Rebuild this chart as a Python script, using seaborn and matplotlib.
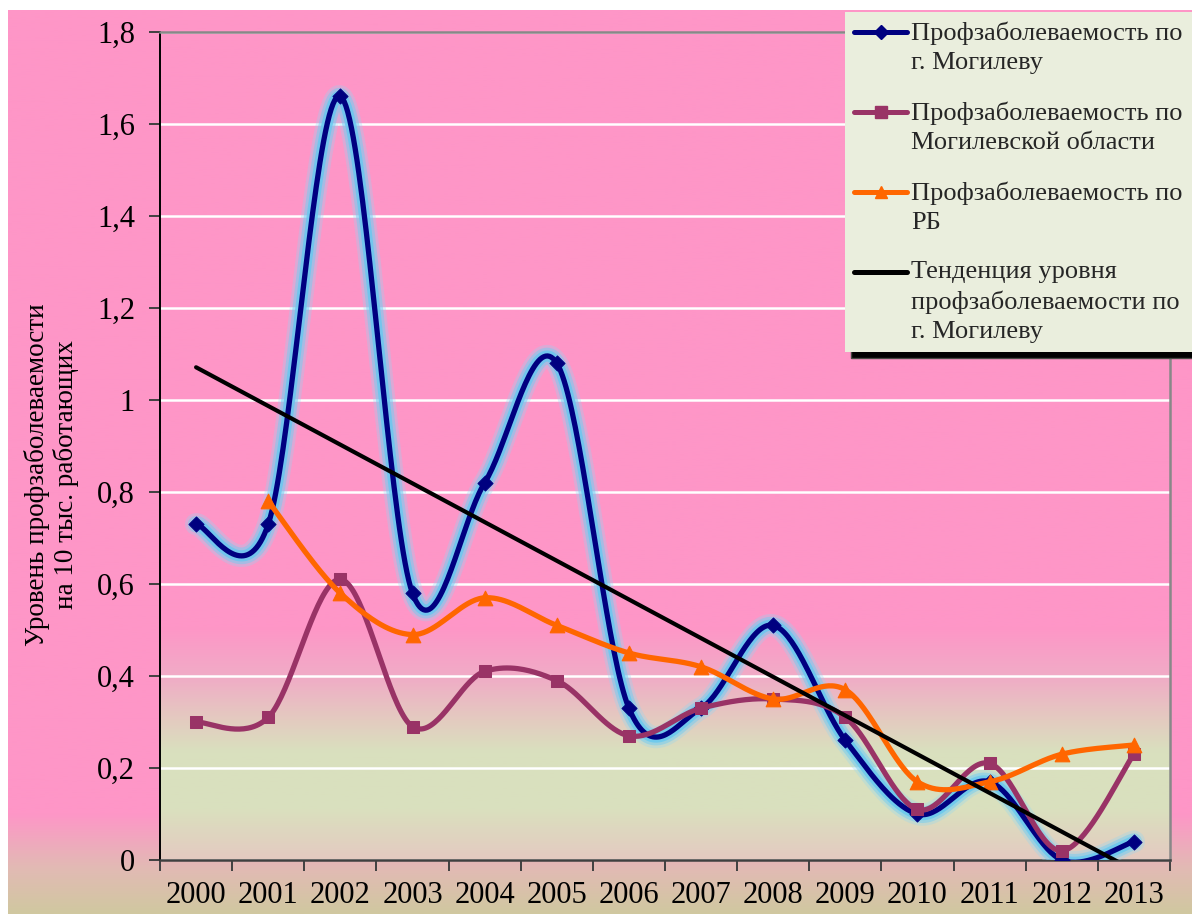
import numpy as np
import seaborn as sns
import matplotlib.pyplot as plt
import matplotlib.patheffects as pe
from matplotlib.lines import Line2D
from matplotlib.ticker import MultipleLocator, FuncFormatter

years = ['2000', '2001', '2002', '2003', '2004', '2005', '2006',
         '2007', '2008', '2009', '2010', '2011', '2012', '2013']
mogilev_city = [0.73, 0.73, 1.66, 0.58, 0.82, 1.08, 0.33,
                0.33, 0.51, 0.26, 0.10, 0.17, 0.00, 0.04]
mogilev_region = [0.30, 0.31, 0.61, 0.29, 0.41, 0.39, 0.27,
                  0.33, 0.35, 0.31, 0.11, 0.21, 0.02, 0.23]
belarus = [np.nan, 0.78, 0.58, 0.49, 0.57, 0.51, 0.45,
           0.42, 0.35, 0.37, 0.17, 0.17, 0.23, 0.25]

labels = ['Профзаболеваемость по\nг. Могилеву',
          'Профзаболеваемость по\nМогилевской области',
          'Профзаболеваемость по\nРБ',
          'Тенденция уровня\nпрофзаболеваемости по\nг. Могилеву']
ylabel = 'Уровень профзаболеваемости\nна 10 тыс. работающих'


def smooth(xv, yv, n=40):
    # excel-like smoothed line (bezier through the points)
    pts = np.column_stack([xv, yv])
    out = []
    t = np.linspace(0, 1, n)[:, None]
    for i in range(len(pts) - 1):
        p0 = pts[i - 1] if i > 0 else pts[i]
        p1, p2 = pts[i], pts[i + 1]
        p3 = pts[i + 2] if i + 2 < len(pts) else pts[i + 1]
        c1 = p1 + (p2 - p0) / 6
        c2 = p2 - (p3 - p1) / 6
        seg = (1 - t)**3 * p1 + 3 * (1 - t)**2 * t * c1 + 3 * (1 - t) * t**2 * c2 + t**3 * p2
        out.append(seg if i == 0 else seg[1:])
    return np.vstack(out)


def gradient(stops, n=400):
    pos = [s[0] for s in stops]
    cols = np.array([s[1] for s in stops]) / 255
    g = np.linspace(0, 1, n)
    return np.stack([np.interp(g, pos, cols[:, k]) for k in range(3)], axis=1)[:, None, :]


sns.set_theme(style='white')
plt.rcParams['font.family'] = ['Liberation Serif', 'DejaVu Serif']

fig = plt.figure(figsize=(11.92, 9.14), dpi=100, facecolor='white')

# background of the whole chart
bg = fig.add_axes([8 / 1192, 0, 1 - 8 / 1192, 1 - 10 / 914], zorder=-1)
bg.imshow(gradient([(0, (208, 200, 160)), (0.05, (226, 186, 180)),
                    (0.11, (254, 150, 199)), (1, (254, 150, 199))]),
          origin='lower', extent=[0, 1, 0, 1], aspect='auto')
bg.axis('off')

ax = fig.add_axes([160 / 1192, 1 - 860 / 914, 1010 / 1192, 828 / 914])
ax.patch.set_visible(False)
ax.imshow(gradient([(0, (228, 202, 193)), (0.06, (218, 224, 190)),
                    (0.13, (217, 224, 190)), (0.17, (228, 202, 192)),
                    (0.22, (240, 172, 198)), (0.28, (254, 150, 199)),
                    (1, (254, 150, 199))]),
          origin='lower', extent=[-0.5, 13.5, 0, 1.8], aspect='auto', zorder=0.1)

x = np.arange(len(years))
glow = [pe.Stroke(linewidth=16, foreground='#8fd8f6', alpha=0.3),
        pe.Stroke(linewidth=12, foreground='#74cdf2', alpha=0.5),
        pe.Stroke(linewidth=8, foreground='#66c8f0', alpha=0.8),
        pe.Normal()]

c = smooth(x, mogilev_city)
sns.lineplot(x=c[:, 0], y=c[:, 1], sort=False, estimator=None, color='#000080',
             lw=3.8, ax=ax, zorder=3, path_effects=glow)
sns.scatterplot(x=x, y=mogilev_city, marker='D', s=60, color='#000080',
                edgecolor='#000080', ax=ax, zorder=3.1)

c = smooth(x, mogilev_region)
sns.lineplot(x=c[:, 0], y=c[:, 1], sort=False, estimator=None, color='#993366',
             lw=3.8, ax=ax, zorder=4)
sns.scatterplot(x=x, y=mogilev_region, marker='s', s=85, color='#993366',
                edgecolor='#993366', ax=ax, zorder=4.1)

bx = x[1:]
by = np.array(belarus[1:])
c = smooth(bx, by)
sns.lineplot(x=c[:, 0], y=c[:, 1], sort=False, estimator=None, color='#ff6600',
             lw=3.8, ax=ax, zorder=5)
sns.scatterplot(x=bx, y=by, marker='^', s=110, color='#ff6600',
                edgecolor='#ff6600', ax=ax, zorder=5.1)

k, b = np.polyfit(x, mogilev_city, 1)
sns.lineplot(x=x, y=k * x + b, color='black', lw=3, ax=ax, zorder=6)

ax.set_xlim(-0.5, 13.5)
ax.set_ylim(0, 1.8)
ax.set_xticks(np.arange(len(years) + 1) - 0.5, labels=[])
ax.set_xticks(x, labels=years, minor=True)
ax.tick_params(axis='x', which='major', bottom=True, length=8, width=1.4,
               color='#404040', direction='out')
ax.tick_params(axis='x', which='minor', bottom=True, length=0, pad=15,
               labelsize=22, labelcolor='black')
ax.yaxis.set_major_locator(MultipleLocator(0.2))
ax.yaxis.set_major_formatter(FuncFormatter(lambda v, _: f'{v:g}'.replace('.', ',')))
ax.tick_params(axis='y', left=True, length=8, width=1.4, color='#404040',
               direction='out', pad=10, labelsize=22, labelcolor='black')
ax.grid(axis='y', color='white', lw=1.8)
ax.grid(axis='x', visible=False)
ax.set_axisbelow(True)

ax.spines['left'].set_color('black')
ax.spines['left'].set_linewidth(1.4)
ax.spines['bottom'].set_color('#404040')
ax.spines['bottom'].set_linewidth(1.8)
for s in ['top', 'right']:
    ax.spines[s].set_color('#888888')
    ax.spines[s].set_linewidth(1.8)

ax.set_xlabel('')
ax.set_ylabel(ylabel, fontsize=19.5, color='black', linespacing=1.15)
ax.yaxis.set_label_coords(-0.08, 0.465)

handles = [Line2D([], [], color='#000080', lw=3.6, marker='D', ms=7),
           Line2D([], [], color='#993366', lw=3.6, marker='s', ms=9),
           Line2D([], [], color='#ff6600', lw=3.6, marker='^', ms=9),
           Line2D([], [], color='black', lw=3.6)]
leg = fig.legend(handles, labels, loc='upper left',
                 bbox_to_anchor=(845 / 1192, 1 - 12 / 914),
                 fontsize=19, frameon=True, fancybox=False,
                 facecolor='#eaeedd', edgecolor='none', framealpha=1,
                 shadow={'ox': 4, 'oy': -4, 'facecolor': 'black', 'alpha': 1},
                 handlelength=2.0, handleheight=1.0, handletextpad=0.15,
                 labelspacing=1.05, borderpad=0.35, borderaxespad=0)
for t in leg.get_texts():
    t.set_linespacing(1.4)
# put the handle on the first line of each label
for col in leg._legend_handle_box.get_children():
    for item in col.get_children():
        item.align = 'top'

fig.savefig('out.png', dpi=100)
